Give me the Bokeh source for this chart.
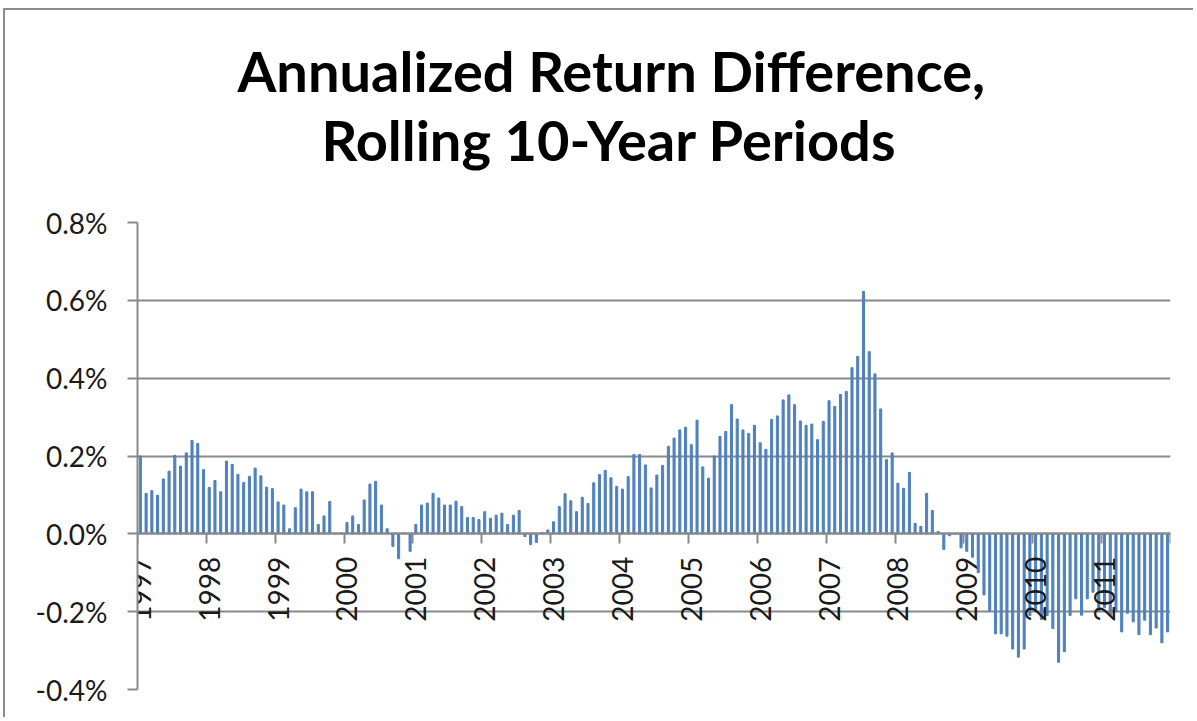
import math
from bokeh.plotting import figure
from bokeh.models import (LinearAxis, FixedTicker, PrintfTickFormatter, Range1d,
                          Title, ColumnDataSource)
from bokeh.embed import file_html
from bokeh.resources import INLINE

# Monthly annualized return difference (in %), Jan 1997 - Dec 2011
y1997 = [0.200, 0.104, 0.111, 0.099, 0.141, 0.161, 0.202, 0.174, 0.208, 0.240, 0.232, 0.165]
y1998 = [0.119, 0.137, 0.108, 0.187, 0.178, 0.153, 0.132, 0.148, 0.169, 0.149, 0.120, 0.116]
y1999 = [0.082, 0.074, 0.013, 0.067, 0.115, 0.108, 0.108, 0.024, 0.046, 0.083, 0.000, 0.002]
y2000 = [0.029, 0.046, 0.024, 0.087, 0.128, 0.135, 0.074, 0.013, -0.032, -0.064, 0.002, -0.045]
y2001 = [0.024, 0.074, 0.079, 0.104, 0.092, 0.074, 0.074, 0.084, 0.070, 0.042, 0.042, 0.037]
y2002 = [0.057, 0.040, 0.048, 0.053, 0.024, 0.048, 0.060, -0.007, -0.028, -0.022, 0.003, 0.010]
y2003 = [0.031, 0.070, 0.103, 0.085, 0.057, 0.094, 0.078, 0.131, 0.152, 0.163, 0.144, 0.122]
y2004 = [0.115, 0.147, 0.204, 0.204, 0.177, 0.118, 0.151, 0.176, 0.225, 0.246, 0.267, 0.274]
y2005 = [0.229, 0.292, 0.172, 0.143, 0.200, 0.250, 0.263, 0.332, 0.295, 0.267, 0.258, 0.279]
y2006 = [0.234, 0.217, 0.294, 0.303, 0.344, 0.357, 0.332, 0.290, 0.279, 0.282, 0.242, 0.289]
y2007 = [0.342, 0.327, 0.358, 0.366, 0.427, 0.456, 0.623, 0.468, 0.411, 0.321, 0.191, 0.208]
y2008 = [0.130, 0.117, 0.158, 0.027, 0.019, 0.104, 0.060, 0.006, -0.040, -0.005, 0.000, -0.036]
y2009 = [-0.045, -0.060, -0.100, -0.157, -0.198, -0.257, -0.257, -0.263, -0.296, -0.317, -0.296, -0.210]
y2010 = [-0.200, -0.220, -0.210, -0.243, -0.330, -0.303, -0.210, -0.167, -0.209, -0.167, -0.150, -0.200]
y2011 = [-0.190, -0.210, -0.200, -0.252, -0.204, -0.226, -0.259, -0.222, -0.259, -0.242, -0.280, -0.252]

years = ["1997", "1998", "1999", "2000", "2001", "2002", "2003", "2004",
         "2005", "2006", "2007", "2008", "2009", "2010", "2011"]
y_ticks = [-0.4, -0.2, 0.0, 0.2, 0.4, 0.6, 0.8]
title_lines = ["Annualized Return Difference,", "Rolling 10-Year Periods"]

values = (y1997 + y1998 + y1999 + y2000 + y2001 + y2002 + y2003 + y2004 +
          y2005 + y2006 + y2007 + y2008 + y2009 + y2010 + y2011)
months = list(range(len(values)))
src = ColumnDataSource(dict(x=months, top=values))

GRAY = "#898989"
TXT = "#1a1a1a"
FONT = "Lato"

p = figure(width=1190, height=709, output_backend="svg", toolbar_location=None,
           x_range=Range1d(-0.5, len(values) - 0.5), y_range=Range1d(-0.4, 0.8),
           x_axis_location=None, min_border_left=132, min_border_right=25,
           min_border_top=212, min_border_bottom=30,
           background_fill_color="white", border_fill_color="white",
           outline_line_color=None)
p.styles = {"margin-left": "3px", "margin-top": "8px",
            "border-left": "2px solid #8c8c8c", "border-top": "2px solid #8c8c8c"}

p.vbar(x="x", top="top", width=0.36, source=src, color="#4F81BD")

# grid
p.xgrid.visible = False
p.ygrid.ticker = FixedTicker(ticks=y_ticks)
p.ygrid.grid_line_color = GRAY
p.ygrid.grid_line_width = 2

# y axis
ya = p.yaxis[0]
ya.ticker = FixedTicker(ticks=y_ticks)
ya.formatter = PrintfTickFormatter(format="%.1f%%")
ya.axis_line_color = GRAY
ya.axis_line_width = 2
ya.major_tick_line_color = GRAY
ya.major_tick_line_width = 2
ya.major_tick_out = 10
ya.major_tick_in = 0
ya.minor_tick_line_color = None
ya.major_label_standoff = 20
ya.major_label_text_font = FONT
ya.major_label_text_font_size = "28px"
ya.major_label_text_color = TXT

# x axis: year-boundary tick marks at y = 0
n_years = len(years)
tick_axis = LinearAxis(ticker=FixedTicker(ticks=[12 * k - 0.5 for k in range(n_years + 1)]),
                       fixed_location=0, axis_line_color=GRAY, axis_line_width=2,
                       major_tick_line_color=GRAY, major_tick_line_width=2,
                       major_tick_out=10, major_tick_in=0, minor_tick_line_color=None,
                       major_label_text_color=None)
p.add_layout(tick_axis, "below")

# x axis: vertical year labels at first month of each year
label_ticks = [12 * k for k in range(n_years)]
label_axis = LinearAxis(ticker=FixedTicker(ticks=label_ticks), fixed_location=0,
                        axis_line_color=None, major_tick_line_color=None,
                        minor_tick_line_color=None, major_tick_out=0, major_tick_in=0,
                        major_label_orientation=math.pi / 2, major_label_standoff=23,
                        major_label_text_font=FONT, major_label_text_font_size="28px",
                        major_label_text_color=TXT,
                        major_label_overrides={t: y for t, y in zip(label_ticks, years)})
p.add_layout(label_axis, "below")

# title: spacer + two lines stacked above the plot area
spacer = Title(text=" ", text_font_size="10px", standoff=37)
p.add_layout(spacer, "above")
for txt, off in zip([title_lines[1], title_lines[0]], [184, 100]):
    p.add_layout(Title(text=txt, align="left", offset=off, standoff=0,
                       text_font=FONT, text_font_style="bold", text_font_size="56px",
                       text_color="#000000"), "above")

open("out.html", "w").write(file_html(p, INLINE))
